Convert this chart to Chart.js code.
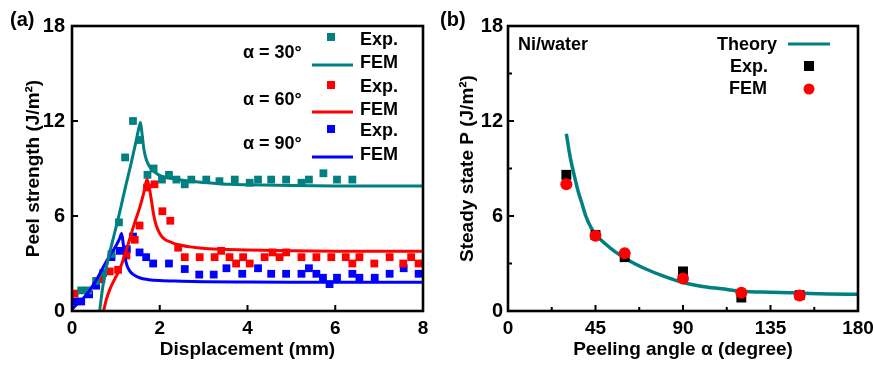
<!DOCTYPE html>
<html>
<head>
<meta charset="utf-8">
<title>Peel strength</title>
<script src="https://cdn.jsdelivr.net/npm/chart.js@4"></script>
<style>
    body { margin: 0; background: #fff; }
    #wrap { position: relative; width: 873px; height: 365px; }
    #chartA { position: absolute; left: 0; top: 0; }
    #chartB { position: absolute; left: 437px; top: 0; }
</style>
</head>
<body>
<div id="wrap">
    <canvas id="chartA" width="437" height="365"></canvas>
    <canvas id="chartB" width="436" height="365"></canvas>
</div>
<script>
// ---- panel (a) data: displacement (mm) vs peel strength (J/m2)
var tealExpX = [0.21, 0.37, 0.55, 0.71, 0.9, 1.07, 1.21, 1.39, 1.55, 1.72, 1.86, 2.05, 2.21, 2.38, 2.57, 2.72, 3.06, 3.36, 3.71, 4.05, 4.24, 4.54, 4.88, 5.23, 5.40, 5.73, 6.04, 6.39];
var tealExpY = [1.3, 1.3, 1.9, 2.4, 3.6, 5.6, 9.7, 12.0, 10.8, 8.6, 9.0, 8.3, 8.6, 8.3, 8.0, 8.3, 8.3, 8.2, 8.3, 8.1, 8.3, 8.3, 8.3, 8.1, 8.3, 8.7, 8.3, 8.3];

var tealFemX = [0.63, 0.7, 0.78, 0.86, 0.95, 1.05, 1.15, 1.25, 1.35, 1.45, 1.52, 1.56, 1.6, 1.64, 1.7, 1.8, 1.92, 2.05, 2.2, 2.4, 2.7, 3.1, 3.6, 4.0, 5.0, 6.0, 7.0, 8.0];
var tealFemY = [0, 1.5, 2.7, 3.7, 4.7, 5.8, 7.0, 8.2, 9.35, 10.6, 11.5, 11.9, 11.1, 10.2, 9.5, 9.0, 8.7, 8.5, 8.4, 8.3, 8.2, 8.1, 8.0, 7.97, 7.92, 7.9, 7.9, 7.9];

var redExpX = [0.06, 0.67, 0.86, 1.05, 1.24, 1.43, 1.54, 1.71, 1.88, 2.06, 2.24, 2.42, 2.57, 2.91, 3.25, 3.40, 3.59, 3.74, 3.90, 4.05, 4.39, 4.57, 4.73, 4.88, 5.23, 5.57, 5.91, 6.24, 6.39, 6.55, 6.89, 7.24, 7.55, 7.73, 7.90];
var redExpY = [1.1, 2.0, 2.5, 2.6, 3.5, 4.5, 5.4, 7.8, 8.0, 6.3, 5.7, 4.0, 3.4, 3.4, 3.4, 3.8, 3.4, 3.0, 3.4, 3.0, 3.4, 3.7, 3.4, 3.7, 3.4, 3.4, 3.4, 3.4, 3.0, 3.4, 3.0, 3.4, 3.0, 3.4, 3.0];

var redFemX = [0.72, 0.78, 0.86, 0.97, 1.09, 1.2, 1.31, 1.42, 1.54, 1.63, 1.71, 1.76, 1.81, 1.86, 1.92, 2.0, 2.1, 2.25, 2.4, 2.7, 3.1, 4.0, 5.0, 6.0, 7.0, 8.0];
var redFemY = [0, 0.7, 1.35, 2.0, 2.65, 3.5, 4.5, 5.5, 6.5, 7.4, 8.3, 7.8, 7.0, 6.1, 5.4, 4.9, 4.55, 4.35, 4.2, 4.05, 3.93, 3.85, 3.8, 3.78, 3.78, 3.78];

var blueExpX = [0.06, 0.21, 0.39, 0.55, 0.9, 1.09, 1.25, 1.39, 1.54, 1.69, 1.85, 2.21, 2.57, 2.90, 3.23, 3.52, 3.88, 4.24, 4.54, 4.88, 5.23, 5.40, 5.57, 5.72, 5.87, 6.04, 6.39, 6.55, 6.90, 7.24, 7.56, 7.90];
var blueExpY = [0.6, 0.6, 1.05, 1.6, 3.4, 3.8, 3.9, 4.7, 3.7, 3.4, 3.0, 3.0, 2.65, 2.3, 2.3, 2.7, 2.35, 2.7, 2.35, 2.35, 2.35, 2.7, 2.35, 2.1, 1.7, 2.1, 2.35, 2.1, 2.1, 2.35, 2.7, 2.35];

var blueFemX = [0, 0.1, 0.29, 0.52, 0.7, 0.82, 1.0, 1.09, 1.13, 1.17, 1.2, 1.25, 1.31, 1.4, 1.54, 1.75, 2.0, 2.5, 3.0, 4.0, 5.0, 6.0, 8.0];
var blueFemY = [0.1, 0.4, 0.9, 1.8, 2.7, 3.3, 4.1, 4.6, 4.9, 4.2, 3.5, 2.9, 2.55, 2.3, 2.1, 1.98, 1.92, 1.88, 1.85, 1.83, 1.82, 1.82, 1.82];

// ---- panel (b) data: peeling angle (degree) vs steady state P (J/m2)
var angles = [30, 45, 60, 90, 120, 150];
var expP = [8.6, 4.8, 3.4, 2.5, 0.85, 1.0];
var femP = [8.0, 4.75, 3.65, 2.06, 1.16, 0.98];

var theoryX = [30, 32, 34, 36, 38, 40, 43, 46, 50, 55, 60, 65, 70, 80, 90, 100, 110, 120, 135, 150, 165, 180];
var theoryY = [11.2, 9.7, 8.6, 7.6, 6.8, 6.0, 5.2, 4.7, 4.25, 3.75, 3.35, 3.0, 2.7, 2.2, 1.8, 1.55, 1.4, 1.25, 1.18, 1.13, 1.08, 1.05];

var xTicksA = [0, 2, 4, 6, 8];
var xTicksB = [0, 45, 90, 135, 180];
var yTicks = [0, 6, 12, 18];
var xMinorB = [22.5, 67.5, 112.5, 157.5];
var yMinorB = [3, 9, 15];

var TEAL = '#008080';
var RED = '#ff0000';
var BLUE = '#0000ff';
var FONT = '"Liberation Sans", Arial, sans-serif';

Chart.defaults.font.family = FONT;
Chart.defaults.color = '#000';

function pts(xs, ys) {
    return xs.map(function (x, i) { return { x: x, y: ys[i] }; });
}

function lineSet(xs, ys, color, width) {
    return {
        data: pts(xs, ys),
        showLine: true,
        borderColor: color,
        borderWidth: width,
        pointRadius: 0,
        cubicInterpolationMode: 'monotone'
    };
}

function markSet(xs, ys, color, style, radius) {
    return {
        data: pts(xs, ys),
        showLine: false,
        pointStyle: style,
        pointRadius: radius,
        backgroundColor: color,
        borderColor: color,
        borderWidth: 0
    };
}

function axisX(min, max, tickList, title) {
    return {
        type: 'linear', min: min, max: max,
        afterBuildTicks: function (s) { s.ticks = tickList.map(function (v) { return { value: v }; }); },
        ticks: { padding: 6, font: { size: 19, weight: 'bold' }, color: '#000' },
        grid: { display: false, drawTicks: false },
        border: { display: false },
        title: { display: true, text: title, font: { size: 19, weight: 'bold' }, color: '#000', padding: { top: 0, bottom: 4 } },
        afterFit: function (s) { s.height = 54; s.paddingLeft = 0; s.paddingRight = 0; }
    };
}

function axisY(title, width, pad, titlePad) {
    return {
        type: 'linear', min: 0, max: 18,
        afterBuildTicks: function (s) { s.ticks = yTicks.map(function (v) { return { value: v }; }); },
        ticks: { padding: pad, font: { size: 20, weight: 'bold' }, color: '#000' },
        grid: { display: false, drawTicks: false },
        border: { display: false },
        title: { display: true, text: title, font: { size: 19, weight: 'bold' }, color: '#000', padding: { top: titlePad, bottom: 0 } },
        afterFit: function (s) { s.width = width; s.paddingTop = 0; s.paddingBottom = 0; }
    };
}

// box around the plot plus inward tick marks
var framePlugin = {
    id: 'frame',
    afterDraw: function (chart) {
        var ctx = chart.ctx, a = chart.chartArea;
        var xs = chart.scales.x, ys = chart.scales.y;
        var opts = chart.options.plugins.frame || {};
        ctx.save();
        ctx.strokeStyle = '#000';
        ctx.lineWidth = 2.6;
        ctx.strokeRect(a.left, a.top, a.right - a.left, a.bottom - a.top);
        ctx.lineWidth = 2;
        ctx.beginPath();
        xs.ticks.forEach(function (t) {
            var px = xs.getPixelForValue(t.value);
            ctx.moveTo(px, a.bottom); ctx.lineTo(px, a.bottom - 6);
        });
        ys.ticks.forEach(function (t) {
            var py = ys.getPixelForValue(t.value);
            ctx.moveTo(a.left, py); ctx.lineTo(a.left + 6, py);
        });
        (opts.minorX || []).forEach(function (v) {
            var px = xs.getPixelForValue(v);
            ctx.moveTo(px, a.bottom); ctx.lineTo(px, a.bottom - 4);
        });
        (opts.minorY || []).forEach(function (v) {
            var py = ys.getPixelForValue(v);
            ctx.moveTo(a.left, py); ctx.lineTo(a.left + 4, py);
        });
        ctx.stroke();
        ctx.restore();
    }
};

// panel labels and hand-made legends
var notesPlugin = {
    id: 'notes',
    afterDraw: function (chart) {
        var ctx = chart.ctx;
        var items = chart.options.plugins.notes.items;
        ctx.save();
        items.forEach(function (it) {
            if (it.text) {
                ctx.font = 'bold ' + (it.size || 18) + 'px ' + FONT;
                ctx.fillStyle = '#000';
                ctx.textAlign = it.align || 'left';
                ctx.textBaseline = 'middle';
                ctx.fillText(it.text, it.x, it.y);
            } else if (it.line) {
                ctx.strokeStyle = it.color;
                ctx.lineWidth = 3;
                ctx.beginPath();
                ctx.moveTo(it.x, it.y); ctx.lineTo(it.x2, it.y);
                ctx.stroke();
            } else if (it.square) {
                ctx.fillStyle = it.color;
                ctx.fillRect(it.x - it.s / 2, it.y - it.s / 2, it.s, it.s);
            } else if (it.dot) {
                ctx.fillStyle = it.color;
                ctx.beginPath();
                ctx.arc(it.x, it.y, it.r, 0, Math.PI * 2);
                ctx.fill();
            }
        });
        ctx.restore();
    }
};

var notesA = [
    { text: '(a)', x: 10, y: 20, size: 20 },
    { square: true, x: 331, y: 37, s: 8, color: TEAL },
    { text: 'Exp.', x: 360, y: 40 },
    { text: 'α = 30°', x: 243, y: 53 },
    { line: true, x: 312, x2: 353, y: 65, color: TEAL },
    { text: 'FEM', x: 360, y: 63 },
    { square: true, x: 331, y: 85, s: 8, color: RED },
    { text: 'Exp.', x: 360, y: 87 },
    { text: 'α = 60°', x: 243, y: 100 },
    { line: true, x: 312, x2: 353, y: 112, color: RED },
    { text: 'FEM', x: 360, y: 110 },
    { square: true, x: 331, y: 129, s: 8, color: BLUE },
    { text: 'Exp.', x: 360, y: 131 },
    { text: 'α = 90°', x: 243, y: 144 },
    { line: true, x: 312, x2: 353, y: 157, color: BLUE },
    { text: 'FEM', x: 360, y: 155 }
];

var notesB = [
    { text: '(b)', x: 3, y: 20, size: 20 },
    { text: 'Ni/water', x: 81, y: 45 },
    { text: 'Theory', x: 340, y: 45, align: 'right' },
    { line: true, x: 351, x2: 393, y: 44, color: TEAL },
    { text: 'Exp.', x: 331, y: 67, align: 'right' },
    { square: true, x: 372, y: 66, s: 10, color: '#000' },
    { text: 'FEM', x: 330, y: 89, align: 'right' },
    { dot: true, x: 372, y: 89, r: 5.5, color: RED }
];

var ctxA = document.getElementById('chartA').getContext('2d');
var chartA = new Chart(ctxA, {
    type: 'scatter',
    data: {
        datasets: [
            lineSet(tealFemX, tealFemY, TEAL, 3),
            lineSet(redFemX, redFemY, RED, 3),
            lineSet(blueFemX, blueFemY, BLUE, 3),
            markSet(tealExpX, tealExpY, TEAL, 'rect', 5.5),
            markSet(redExpX, redExpY, RED, 'rect', 5.5),
            markSet(blueExpX, blueExpY, BLUE, 'rect', 5.5)
        ]
    },
    options: {
        responsive: false,
        animation: false,
        layout: { padding: { left: 0, top: 26, right: 14, bottom: 0 } },
        scales: {
            x: axisX(0, 8, xTicksA, 'Displacement (mm)'),
            y: axisY('Peel strength (J/m²)', 72, 7, 22)
        },
        plugins: {
            legend: { display: false },
            tooltip: { enabled: false },
            frame: {},
            notes: { items: notesA }
        }
    },
    plugins: [framePlugin, notesPlugin]
});

var ctxB = document.getElementById('chartB').getContext('2d');
var chartB = new Chart(ctxB, {
    type: 'scatter',
    data: {
        datasets: [
            markSet(angles, femP, RED, 'circle', 6),
            markSet(angles, expP, '#000', 'rect', 7),
            lineSet(theoryX, theoryY, TEAL, 3.5)
        ]
    },
    options: {
        responsive: false,
        animation: false,
        layout: { padding: { left: 0, top: 26, right: 15, bottom: 0 } },
        scales: {
            x: axisX(0, 180, xTicksB, 'Peeling angle α (degree)'),
            y: axisY('Steady state P (J/m²)', 71, 5, 19)
        },
        plugins: {
            legend: { display: false },
            tooltip: { enabled: false },
            frame: { minorX: xMinorB, minorY: yMinorB },
            notes: { items: notesB }
        }
    },
    plugins: [framePlugin, notesPlugin]
});
</script>
</body>
</html>
